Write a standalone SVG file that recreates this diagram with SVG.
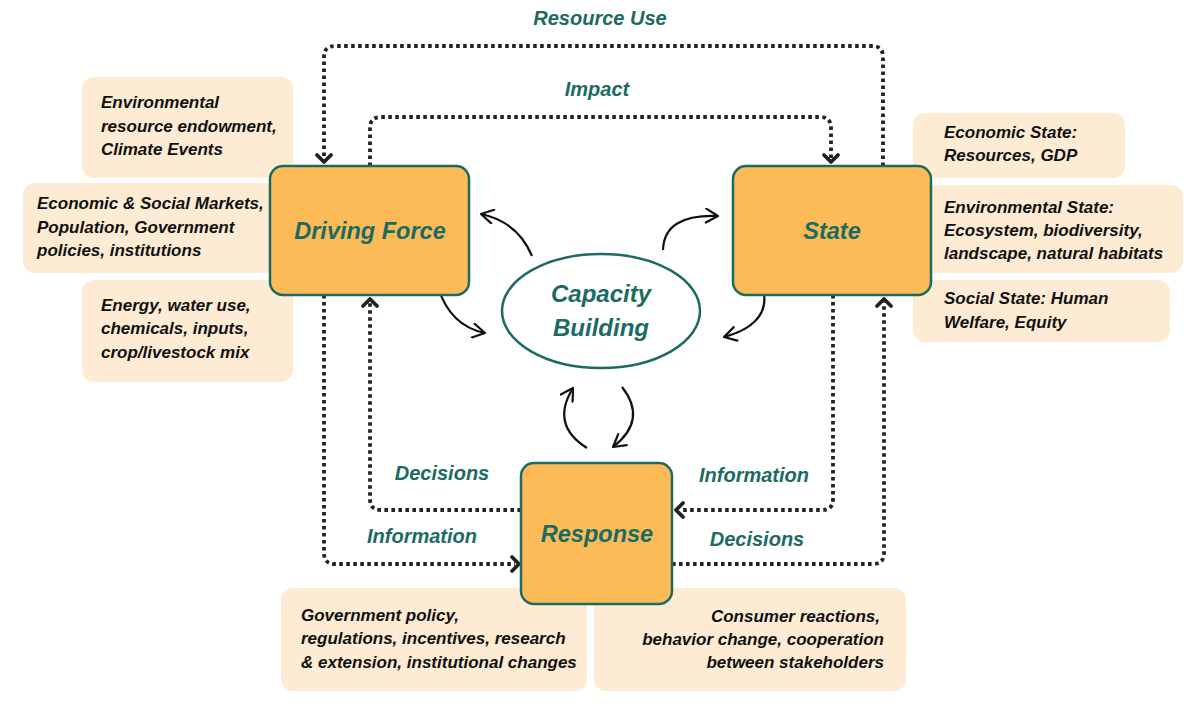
<svg xmlns="http://www.w3.org/2000/svg" width="1200" height="714" viewBox="0 0 1200 714">
<defs>
<marker id="curveHead" markerUnits="userSpaceOnUse" markerWidth="16" markerHeight="16" viewBox="0 0 16 16" refX="14" refY="8" orient="auto">
<path d="M2 1 L14 8 L2 15" fill="none" stroke="#111" stroke-width="2.2" stroke-linecap="round" stroke-linejoin="round"/>
</marker>
<style>
.note{fill:#fdebd3;}
.ntext{font-family:"Liberation Sans",Arial,sans-serif;font-size:17px;font-weight:bold;font-style:italic;fill:#111;}
.node{fill:#fdbb58;stroke:#1d6a62;stroke-width:2.5;}
.ntitle{font-family:"Liberation Sans",Arial,sans-serif;font-size:23.5px;font-weight:bold;font-style:italic;fill:#1b6b63;text-anchor:middle;}
.lbl{font-family:"Liberation Sans",Arial,sans-serif;font-size:20px;font-weight:bold;font-style:italic;fill:#1b6b63;text-anchor:middle;}
.dot{fill:none;stroke:#222;stroke-width:3.8;stroke-dasharray:3.6 3.4;}
.head{fill:none;stroke:#222;stroke-width:3.8;stroke-linecap:round;stroke-linejoin:round;}
.curve{fill:none;stroke:#111;stroke-width:2.2;marker-end:url(#curveHead);}
</style>
</defs>
<rect width="1200" height="714" fill="#ffffff"/>

<g id="notes">
<g id="note-env">
<rect class="note" x="82" y="77" width="211" height="101" rx="12"/>
<text class="ntext" x="101" y="108">Environmental</text>
<text class="ntext" x="101" y="132">resource endowment,</text>
<text class="ntext" x="101" y="155">Climate Events</text>
</g>
<g id="note-econ">
<rect class="note" x="23" y="183" width="280" height="90" rx="12"/>
<text class="ntext" x="37" y="209">Economic &amp; Social Markets,</text>
<text class="ntext" x="37" y="233">Population, Government</text>
<text class="ntext" x="37" y="256">policies, institutions</text>
</g>
<g id="note-energy">
<rect class="note" x="82" y="280" width="211" height="102" rx="12"/>
<text class="ntext" x="101" y="311">Energy, water use,</text>
<text class="ntext" x="101" y="334">chemicals, inputs,</text>
<text class="ntext" x="101" y="358">crop/livestock mix</text>
</g>
<g id="note-econstate">
<rect class="note" x="913" y="113" width="212" height="65" rx="12"/>
<text class="ntext" x="944" y="138">Economic State:</text>
<text class="ntext" x="944" y="161">Resources, GDP</text>
</g>
<g id="note-envstate">
<rect class="note" x="905" y="185" width="278" height="88" rx="12"/>
<text class="ntext" x="944" y="213">Environmental State:</text>
<text class="ntext" x="944" y="236">Ecosystem, biodiversity,</text>
<text class="ntext" x="944" y="259">landscape, natural habitats</text>
</g>
<g id="note-social">
<rect class="note" x="913" y="280" width="257" height="62" rx="12"/>
<text class="ntext" x="944" y="304">Social State: Human</text>
<text class="ntext" x="944" y="328">Welfare, Equity</text>
</g>
<g id="note-gov">
<rect class="note" x="281" y="588" width="306" height="103" rx="12"/>
<text class="ntext" x="301" y="621">Government policy,</text>
<text class="ntext" x="301" y="644">regulations, incentives, research</text>
<text class="ntext" x="301" y="668">&amp; extension, institutional changes</text>
</g>
<g id="note-consumer">
<rect class="note" x="594" y="588" width="312" height="103" rx="12"/>
<text class="ntext" x="880" y="622" text-anchor="end">Consumer reactions,</text>
<text class="ntext" x="884" y="645" text-anchor="end">behavior change, cooperation</text>
<text class="ntext" x="884" y="668" text-anchor="end">between stakeholders</text>
</g>
</g>

<g id="connectors">
<!-- Resource Use -->
<path class="dot" d="M883 166 V57 Q883 46 872 46 H335 Q324 46 324 57 V160"/>
<path class="head" d="M317 155 L324 162 L331 155"/>
<!-- Impact -->
<path class="dot" d="M370 166 V128 Q370 117 381 117 H820 Q831 117 831 128 V160"/>
<path class="head" d="M824 155 L831 162 L838 155"/>
<!-- Driving Force -> Response (Information) -->
<path class="dot" d="M324 295 V553 Q324 564 335 564 H515"/>
<path class="head" d="M512 557 L519 564 L512 571"/>
<!-- Response -> Driving Force (Decisions) -->
<path class="dot" d="M521 510 H381 Q370 510 370 499 V302"/>
<path class="head" d="M363 306 L370 299 L377 306"/>
<!-- State -> Response (Information) -->
<path class="dot" d="M833 295 V499 Q833 510 822 510 H680"/>
<path class="head" d="M683 503 L676 510 L683 517"/>
<!-- Response -> State (Decisions) -->
<path class="dot" d="M672 564 H873 Q884 564 884 553 V302"/>
<path class="head" d="M877 306 L884 299 L891 306"/>
<!-- capacity building curves -->
<path class="curve" d="M532 256 Q518 222 481 214"/>
<path class="curve" d="M438 287 Q450 326 485 333"/>
<path class="curve" d="M663 250 Q664 214 718 216"/>
<path class="curve" d="M763 288 Q772 324 724 337"/>
<path class="curve" d="M587 448 Q550 425 573 388"/>
<path class="curve" d="M622 387 Q648 420 613 447"/>
</g>

<g id="labels">
<text class="lbl" x="600" y="25">Resource Use</text>
<text class="lbl" x="597" y="96">Impact</text>
<text class="lbl" x="442" y="480">Decisions</text>
<text class="lbl" x="754" y="482">Information</text>
<text class="lbl" x="422" y="543">Information</text>
<text class="lbl" x="757" y="546">Decisions</text>
</g>

<g id="node-driving-force">
<rect class="node" x="270" y="166" width="199" height="129" rx="13"/>
<text class="ntitle" x="370" y="239">Driving Force</text>
</g>
<g id="node-state">
<rect class="node" x="733" y="166" width="198" height="129" rx="13"/>
<text class="ntitle" x="832" y="239">State</text>
</g>
<g id="node-response">
<rect class="node" x="521" y="463" width="151" height="141" rx="13"/>
<text class="ntitle" x="597" y="542">Response</text>
</g>
<g id="node-capacity">
<ellipse cx="601" cy="311" rx="99" ry="57" fill="#ffffff" stroke="#1d6a62" stroke-width="2.5"/>
<text class="ntitle" x="601" y="302" style="font-size:24px">Capacity</text>
<text class="ntitle" x="601" y="336" style="font-size:24px">Building</text>
</g>
</svg>
